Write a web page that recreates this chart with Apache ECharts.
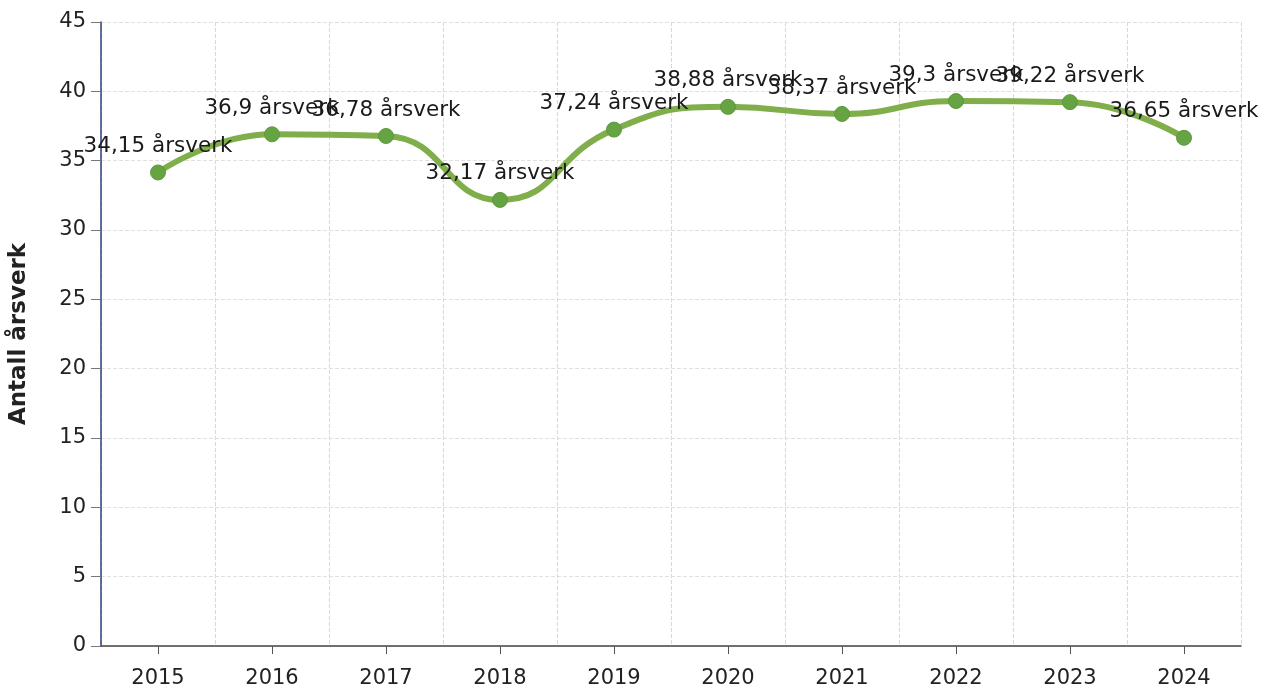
<!DOCTYPE html>
<html>
<head>
<meta charset="utf-8">
<script src="https://cdn.jsdelivr.net/npm/echarts@6/dist/echarts.min.js"></script>
<style>
html,body{margin:0;padding:0;background:#fff;}
#c{width:1264px;height:691px;}
</style>
</head>
<body>
<div id="c"></div>
<script>
const categories = ['2015','2016','2017','2018','2019','2020','2021','2022','2023','2024'];
const values = [34.15, 36.9, 36.78, 32.17, 37.24, 38.88, 38.37, 39.3, 39.22, 36.65];
const yAxisName = 'Antall årsverk';
const unit = 'årsverk';

const chart = echarts.init(document.getElementById('c'), null, {renderer:'canvas'});
const font = 'DejaVu Sans, Verdana, sans-serif';
chart.setOption({
  animation: false,
  backgroundColor: '#fff',
  grid: {left: 101, right: 23, top: 22, bottom: 45},
  xAxis: {
    type: 'category',
    data: categories,
    boundaryGap: true,
    axisLine: {show: true, lineStyle: {color: '#444', width: 1.5}},
    axisTick: {show: true, alignWithLabel: true, length: 8, lineStyle: {color: '#555'}},
    axisLabel: {color: '#222', fontSize: 21, fontFamily: font, margin: 22},
    splitLine: {show: true, lineStyle: {color: '#d8d8d8', type: 'dashed', width: 1}}
  },
  yAxis: {
    type: 'value',
    min: 0, max: 45, interval: 5,
    name: yAxisName,
    nameLocation: 'middle',
    nameGap: 70,
    nameTextStyle: {color: '#222', fontSize: 23, fontWeight: 'bold', fontFamily: font},
    axisLine: {show: true, lineStyle: {color: '#2b3f7e', width: 1.5}},
    axisTick: {show: true, length: 10, lineStyle: {color: '#777'}},
    axisLabel: {color: '#222', fontSize: 21, fontFamily: font, margin: 15},
    splitLine: {show: true, lineStyle: {color: '#e0e0e0', type: 'dashed', width: 1}}
  },
  series: [{
    type: 'line',
    data: values,
    smooth: 0.5,
    symbol: 'circle',
    symbolSize: 15,
    lineStyle: {color: '#7fae4a', width: 6},
    itemStyle: {color: '#66a343', borderColor: '#5d9a3c', borderWidth: 1},
    label: {
      show: true,
      position: 'top',
      distance: 7,
      color: '#1a1a1a',
      fontSize: 21.5,
      fontFamily: font,
      formatter: p => String(p.value).replace('.', ',') + ' ' + unit
    },
    labelLayout: {hideOverlap: false}
  }]
});
</script>
</body>
</html>
